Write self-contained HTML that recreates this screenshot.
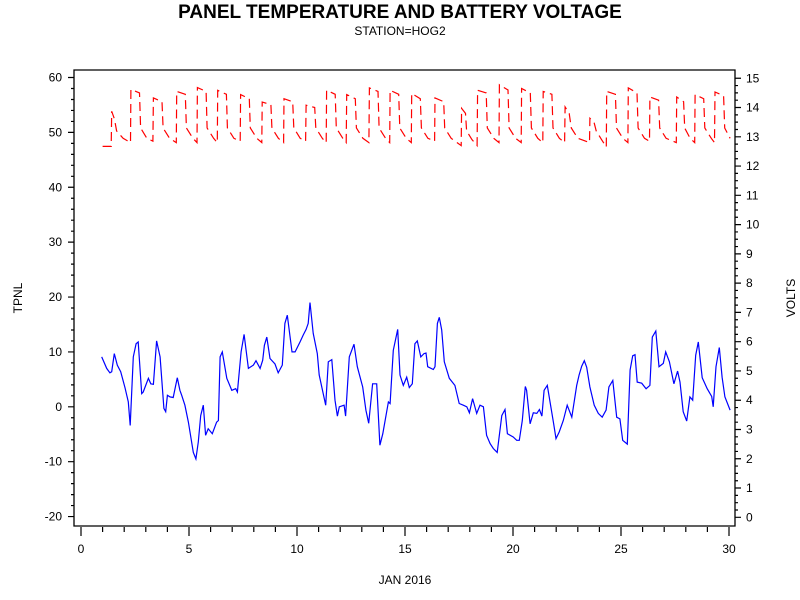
<!DOCTYPE html>
<html><head><meta charset="utf-8"><style>
body{margin:0;background:#fff;}
svg{display:block;font-family:"Liberation Sans",Arial,sans-serif;}
</style></head><body>
<svg id="chart" width="800" height="600" viewBox="0 0 800 600">
<text x="400" y="18" text-anchor="middle" font-size="19" font-weight="bold">PANEL TEMPERATURE AND BATTERY VOLTAGE</text>
<text x="400" y="35" text-anchor="middle" font-size="12">STATION=HOG2</text>
<text x="405" y="584" text-anchor="middle" font-size="12">JAN 2016</text>
<text transform="translate(22,298) rotate(-90)" text-anchor="middle" font-size="12">TPNL</text>
<text transform="translate(795,298) rotate(-90)" text-anchor="middle" font-size="12">VOLTS</text>
<g id="axes"></g>
<g id="series"></g>
</svg>
<script>
const tempDays=[0.96,1.19,1.34,1.42,1.54,1.68,1.84,2.04,2.19,2.28,2.42,2.55,2.65,2.81,2.88,3.12,3.23,3.35,3.50,3.66,3.84,3.92,4.00,4.12,4.27,4.46,4.58,4.66,4.81,4.97,5.20,5.32,5.43,5.54,5.66,5.77,5.89,6.08,6.28,6.36,6.44,6.54,6.75,6.98,7.16,7.24,7.41,7.55,7.75,7.98,8.10,8.29,8.41,8.49,8.60,8.75,8.98,9.13,9.32,9.44,9.55,9.77,9.91,10.14,10.29,10.42,10.52,10.60,10.75,10.94,11.03,11.33,11.45,11.61,11.76,11.87,11.96,12.18,12.25,12.42,12.64,12.79,13.04,13.19,13.32,13.50,13.69,13.84,13.97,14.23,14.31,14.46,14.66,14.77,14.92,15.08,15.20,15.34,15.46,15.57,15.73,15.88,15.97,16.05,16.31,16.39,16.50,16.59,16.70,16.82,17.05,17.31,17.51,17.70,17.86,17.98,18.13,18.32,18.47,18.63,18.78,18.94,19.09,19.27,19.48,19.63,19.74,20.01,20.17,20.29,20.43,20.57,20.63,20.79,20.94,21.10,21.22,21.34,21.44,21.59,21.87,21.99,22.14,22.33,22.51,22.72,22.95,23.06,23.18,23.30,23.41,23.56,23.76,23.95,24.13,24.31,24.44,24.62,24.80,24.95,25.08,25.29,25.42,25.54,25.65,25.75,25.96,26.16,26.34,26.45,26.61,26.76,26.96,27.07,27.24,27.45,27.62,27.73,27.88,28.04,28.19,28.32,28.46,28.58,28.76,28.99,29.20,29.27,29.40,29.55,29.68,29.81,30.05];
const tempVals=[9.1,7,6.2,6.4,9.7,7.6,6.4,3.4,0.9,-3.4,9.1,11.5,11.8,2.4,2.7,5.2,4.2,4.1,12,9.1,-0.3,-0.9,2.1,1.8,1.7,5.3,3,2.1,0.3,-2.8,-8.3,-9.5,-6.4,-1.6,0.3,-5.2,-4,-4.9,-2.8,-2.5,9.1,10,5.2,3,3.3,2.7,10,13.2,7,7.6,8.4,7,8.5,11.2,12.7,8.8,7.8,6.2,7.6,15.2,16.7,10,10,11.8,13.1,14.1,15.2,19,13.4,9.7,5.8,0.3,8.2,8.6,1.2,-1.7,0,0.3,-1.7,9.1,11.4,7.3,3.6,-0.6,-3,4.2,4.2,-7,-4.9,0.9,0.6,10.3,14.1,5.8,3.9,5.4,3.5,4.2,11.5,12,9.1,9.7,9.8,7.3,6.8,7.3,15.2,16.3,14,8.2,5.2,3.9,0.6,0.3,0,-1.1,1.5,-1.2,0.3,0,-5.2,-6.7,-7.6,-8.3,-1.6,-0.5,-4.9,-5.5,-6.1,-6.1,-2.5,3.7,3,-3.1,-1.1,-1.2,-0.5,-1.7,3,3.9,-2.8,-5.8,-4.6,-2.5,0.3,-1.9,3.9,5.8,7.4,8.4,7.2,3.6,0.3,-1.2,-1.9,-0.6,3.6,4.8,-1.9,-2.2,-6.1,-6.8,6.7,9.3,9.5,4.5,4.3,3.3,3.9,12.7,13.8,7.3,7.9,10,8.2,4.2,6.5,4.5,-0.9,-2.6,1.8,1.2,9.4,11.8,5.3,3.3,1.9,0,7.3,10.8,5.4,1.8,-0.6];
const voltDays=[1.00,1.40,1.42,1.55,1.65,1.95,2.29,2.31,2.71,2.76,3.05,3.33,3.35,3.75,3.80,4.10,4.41,4.43,4.83,4.88,5.18,5.37,5.39,5.79,5.84,6.14,6.31,6.33,6.73,6.78,7.08,7.37,7.39,7.79,7.84,8.14,8.37,8.39,8.79,8.84,9.14,9.38,9.40,9.80,9.85,10.15,10.40,10.42,10.82,10.87,11.17,11.35,11.37,11.77,11.82,12.12,12.28,12.30,12.70,12.75,13.05,13.33,13.35,13.75,13.80,14.10,14.29,14.31,14.71,14.76,15.06,15.29,15.31,15.71,15.76,16.06,16.37,16.39,16.79,16.84,17.14,17.60,17.62,17.80,17.85,18.10,18.34,18.36,18.76,18.81,19.11,19.35,19.37,19.77,19.82,20.12,20.38,20.40,20.80,20.85,21.15,21.38,21.40,21.80,21.85,22.15,22.39,22.41,22.60,22.70,23.00,23.54,23.56,23.75,23.85,24.10,24.32,24.34,24.74,24.79,25.09,25.32,25.34,25.74,25.79,26.09,26.32,26.34,26.74,26.79,27.09,27.56,27.58,27.90,27.95,28.20,28.41,28.43,28.83,28.88,29.18,29.33,29.35,29.75,29.80,30.05];
const voltVals=[12.67,12.67,13.87,13.6,13.2,12.95,12.8,14.62,14.5,13.3,12.95,12.85,14.33,14.2,13.3,12.95,12.8,14.55,14.45,13.3,12.95,12.8,14.68,14.55,13.3,12.95,12.8,14.59,14.45,13.3,12.95,12.85,14.44,14.3,13.3,12.95,12.8,14.19,14.1,13.3,12.95,12.8,14.30,14.2,13.3,12.95,12.85,14.08,14.0,13.3,12.95,12.8,14.59,14.45,13.3,12.95,12.8,14.44,14.3,13.3,12.95,12.8,14.67,14.55,13.3,12.95,12.8,14.59,14.45,13.3,12.95,12.8,14.48,14.3,13.3,12.95,12.85,14.33,14.2,13.3,12.95,12.7,13.97,13.8,13.2,12.9,12.7,14.59,14.5,13.3,12.95,12.8,14.78,14.6,13.3,12.95,12.8,14.65,14.5,13.3,12.95,12.8,14.55,14.45,13.3,12.95,12.8,14.02,13.8,13.3,12.95,12.8,13.63,13.5,13.2,12.9,12.65,14.55,14.45,13.3,12.95,12.8,14.67,14.5,13.3,12.95,12.85,14.36,14.25,13.3,12.95,12.8,14.36,14.2,13.3,12.95,12.8,14.44,14.3,13.3,12.95,12.8,14.53,14.4,13.3,12.95];
const xTicks=[0,5,10,15,20,25,30];
const leftTicks=[-20,-10,0,10,20,30,40,50,60];
const rightTicks=[0,1,2,3,4,5,6,7,8,9,10,11,12,13,14,15];
const NS='http://www.w3.org/2000/svg';
const X=d=>81+d*21.6;
const YL=v=>406.8-v*5.488;
const YR=v=>517.3-v*29.27;
const axes=document.getElementById('axes'), ser=document.getElementById('series');
function mk(tag,attrs,parent){const e=document.createElementNS(NS,tag);for(const k in attrs)e.setAttribute(k,attrs[k]);parent.appendChild(e);return e;}
let fr=mk('path',{d:'M74,70H735V526H74Z',fill:'none',stroke:'#000','stroke-width':1.3},axes);


let d='';
for(let i=0;i<=30;i++){d+='M'+X(i)+',527v'+(i%5===0?9:5);}
for(let v=-20;v<=60;v+=2){d+='M74,'+YL(v)+'h'+(v%10===0?-6:-3);}
for(let v=0;v<=15;v+=0.25){d+='M735,'+YR(v)+'h'+(Number.isInteger(v)?6:3);}
let tk=mk('path',{d:d,stroke:'#000','stroke-width':1.2,fill:'none'},axes);


xTicks.forEach(t=>{const e=mk('text',{x:X(t),y:553,'text-anchor':'middle','font-size':12},axes);e.textContent=t;

});
leftTicks.forEach(t=>{const e=mk('text',{x:62,y:YL(t)+4,'text-anchor':'end','font-size':12},axes);e.textContent=t;

});
rightTicks.forEach(t=>{const e=mk('text',{x:746,y:YR(t)+4,'text-anchor':'start','font-size':12},axes);e.textContent=t;

});
let tp=mk('polyline',{points:tempDays.map((t,i)=>X(t).toFixed(1)+','+YL(tempVals[i]).toFixed(1)).join(' '),fill:'none',stroke:'#0000ff','stroke-width':1.2},ser);


let vp=mk('polyline',{points:voltDays.map((t,i)=>X(t).toFixed(1)+','+YR(voltVals[i]).toFixed(1)).join(' '),fill:'none',stroke:'#ff0000','stroke-width':1.2,'stroke-dasharray':'9,5'},ser);


</script>
</body></html>
